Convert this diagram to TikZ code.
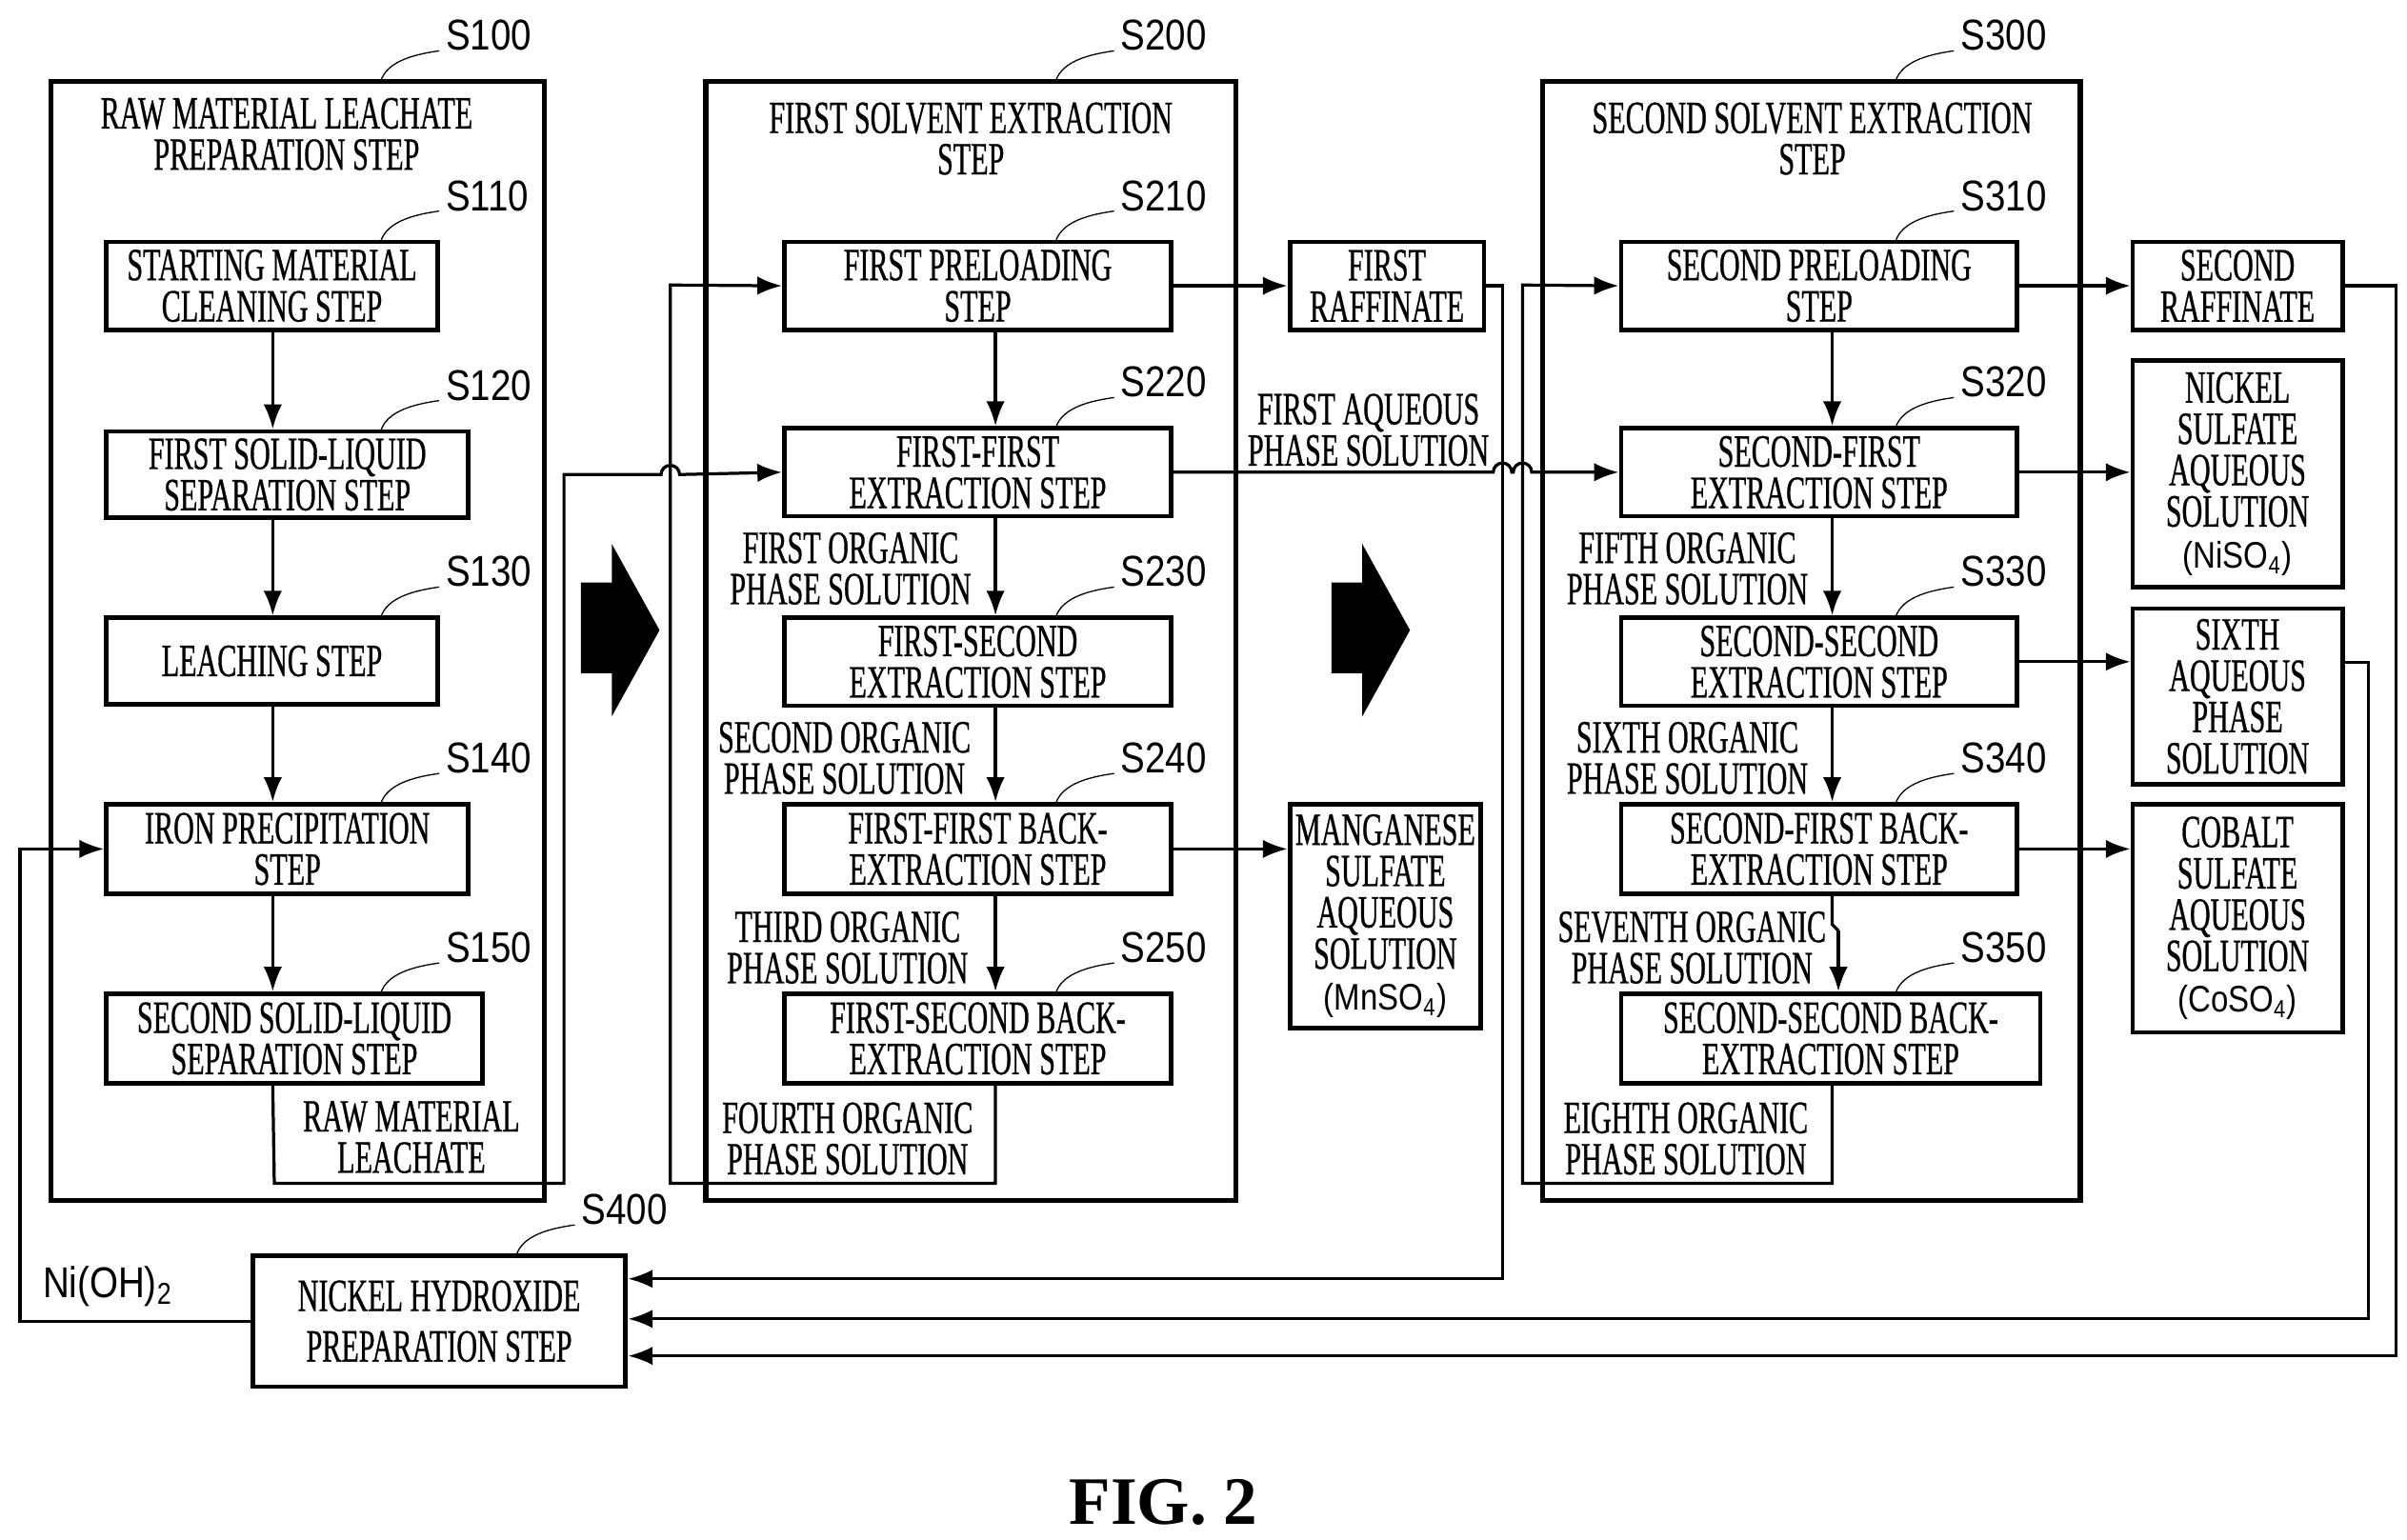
\documentclass[tikz,border=0pt]{standalone}
\usepackage{fontspec}
\setmainfont{Liberation Serif}[FakeStretch=0.62,FakeBold=0.6]
\setsansfont{Liberation Sans}[FakeStretch=0.85]
\newfontfamily\figfont{Liberation Serif}
\usetikzlibrary{calc,arrows.meta}

\begin{document}
\begin{tikzpicture}[x=0.5pt,y=-0.5pt,
  font=\fontsize{15}{13.4}\selectfont,
  box/.style={draw,line width=1.5pt,inner sep=0pt,align=center},
  frame/.style={draw,line width=1.6pt},
  line/.style={line width=1pt},
  arr/.style={line width=1pt,-{Latex[length=8pt,width=6pt]}},
  lbl/.style={align=center,inner sep=0pt},
  snum/.style={font=\sffamily\fontsize{14}{14}\selectfont,anchor=west,inner sep=0pt}]

\newcommand{\steptag}[2]{%
  \draw[thin] (#1) .. controls +(4,-14) and +(-14,2) .. ++(38,-20) node[snum,xshift=2pt,yshift=5pt] {#2};}
\newcommand{\chemtxt}[1]{{\sffamily\fontsize{12}{12}\selectfont#1}}

\useasboundingbox (0,0) rectangle (1562,999);

% outer frames
\draw[frame] (33,53) rectangle (353,779);
\draw[frame] (458,53) rectangle (802,779);
\draw[frame] (1001,53) rectangle (1350,779);
\node[lbl] (t100) at (186,87) {RAW MATERIAL LEACHATE\\PREPARATION STEP};
\node[lbl] (t200) at (630,90) {FIRST SOLVENT EXTRACTION\\STEP};
\node[lbl] (t300) at (1176,90) {SECOND SOLVENT EXTRACTION\\STEP};
\steptag{247,53}{S100}
\steptag{685,53}{S200}
\steptag{1230,53}{S300}

% S100 steps
\node[box,minimum width=107.5pt,minimum height=28.5pt] (s110) at (176.5,185.5) {STARTING MATERIAL\\CLEANING STEP};
\node[box,minimum width=117.5pt,minimum height=28pt] (s120) at (186.5,308) {FIRST SOLID-LIQUID\\SEPARATION STEP};
\node[box,minimum width=107.5pt,minimum height=28pt] (s130) at (176.5,429) {LEACHING STEP};
\node[box,minimum width=117.5pt,minimum height=29pt] (s140) at (186.5,551) {IRON PRECIPITATION\\STEP};
\node[box,minimum width=122pt,minimum height=29pt] (s150) at (191,674) {SECOND SOLID-LIQUID\\SEPARATION STEP};
\steptag{247,157}{S110}
\steptag{247,280}{S120}
\steptag{247,401}{S130}
\steptag{247,522}{S140}
\steptag{247,645}{S150}
\coordinate (c1) at (177,0);
\draw[arr] (s110.south -| c1) -- (s120.north -| c1);
\draw[arr] (s120.south -| c1) -- (s130.north -| c1);
\draw[arr] (s130.south -| c1) -- (s140.north -| c1);
\draw[arr] (s140.south -| c1) -- (s150.north -| c1);
\node[lbl] (leach) at (267,738) {RAW MATERIAL\\LEACHATE};

% S200 steps
\node[box,minimum width=125.5pt,minimum height=28.5pt] (s210) at (634.5,185.5) {FIRST PRELOADING\\STEP};
\node[box,minimum width=125.5pt,minimum height=28.5pt] (s220) at (634.5,306.5) {FIRST-FIRST\\EXTRACTION STEP};
\node[box,minimum width=125.5pt,minimum height=28.5pt] (s230) at (634.5,429.5) {FIRST-SECOND\\EXTRACTION STEP};
\node[box,minimum width=125.5pt,minimum height=29pt] (s240) at (634.5,551) {FIRST-FIRST BACK-\\EXTRACTION STEP};
\node[box,minimum width=125.5pt,minimum height=29pt] (s250) at (634.5,674) {FIRST-SECOND BACK-\\EXTRACTION STEP};
\steptag{685,157}{S210}
\steptag{685,278}{S220}
\steptag{685,401}{S230}
\steptag{685,522}{S240}
\steptag{685,645}{S250}
\coordinate (c2) at (646,0);
\draw[arr] (s210.south -| c2) -- (s220.north -| c2);
\draw[arr] (s220.south -| c2) -- (s230.north -| c2);
\draw[arr] (s230.south -| c2) -- (s240.north -| c2);
\draw[arr] (s240.south -| c2) -- (s250.north -| c2);
\node[lbl] (o1) at (552,369) {FIRST ORGANIC\\PHASE SOLUTION};
\node[lbl] (o2) at (548,492) {SECOND ORGANIC\\PHASE SOLUTION};
\node[lbl] (o3) at (550,615) {THIRD ORGANIC\\PHASE SOLUTION};
\node[lbl] (o4) at (550,739) {FOURTH ORGANIC\\PHASE SOLUTION};

\node[box,minimum width=63pt,minimum height=28.5pt] (raf1) at (900,185.5) {FIRST\\RAFFINATE};
\node[box,minimum width=62pt,minimum height=72.5pt] (mn) at (899,594.5) {MANGANESE\\SULFATE\\AQUEOUS\\SOLUTION\\\chemtxt{(MnSO\textsubscript{4})}};
\draw[arr] (s210) -- (raf1);
\draw[arr] (s240.east) -- (s240.east -| mn.west);
\node[lbl] (aq1) at (888,279) {FIRST AQUEOUS\\PHASE SOLUTION};

% S300 steps
\node[box,minimum width=128.5pt,minimum height=28.5pt] (s310) at (1180.5,185.5) {SECOND PRELOADING\\STEP};
\node[box,minimum width=128.5pt,minimum height=28.5pt] (s320) at (1180.5,306.5) {SECOND-FIRST\\EXTRACTION STEP};
\node[box,minimum width=128.5pt,minimum height=28.5pt] (s330) at (1180.5,429.5) {SECOND-SECOND\\EXTRACTION STEP};
\node[box,minimum width=128.5pt,minimum height=29pt] (s340) at (1180.5,551) {SECOND-FIRST BACK-\\EXTRACTION STEP};
\node[box,minimum width=136pt,minimum height=29pt] (s350) at (1188,674) {SECOND-SECOND BACK-\\EXTRACTION STEP};
\steptag{1230,157}{S310}
\steptag{1230,278}{S320}
\steptag{1230,401}{S330}
\steptag{1230,522}{S340}
\steptag{1230,645}{S350}
\coordinate (c3) at (1189,0);
\coordinate (c4) at (1193,0);
\draw[arr] (s310.south -| c3) -- (s320.north -| c3);
\draw[arr] (s320.south -| c3) -- (s330.north -| c3);
\draw[arr] (s330.south -| c3) -- (s340.north -| c3);
\draw[line] (s340.south -| c3) -- (1189,600) -- (1193,604);
\draw[arr] (1193,604) -- (s350.north -| c4);
\node[lbl] (o5) at (1095,369) {FIFTH ORGANIC\\PHASE SOLUTION};
\node[lbl] (o6) at (1095,492) {SIXTH ORGANIC\\PHASE SOLUTION};
\node[lbl] (o7) at (1098,615) {SEVENTH ORGANIC\\PHASE SOLUTION};
\node[lbl] (o8) at (1094,739) {EIGHTH ORGANIC\\PHASE SOLUTION};

\node[box,minimum width=68pt,minimum height=28.5pt] (raf2) at (1452,185.5) {SECOND\\RAFFINATE};
\node[box,minimum width=68pt,minimum height=73.5pt] (ni) at (1452,307.5) {NICKEL\\SULFATE\\AQUEOUS\\SOLUTION\\\chemtxt{(NiSO\textsubscript{4})}};
\node[box,minimum width=68pt,minimum height=57pt] (aq6) at (1452,452) {SIXTH\\AQUEOUS\\PHASE\\SOLUTION};
\node[box,minimum width=68pt,minimum height=74pt] (co) at (1452,596) {COBALT\\SULFATE\\AQUEOUS\\SOLUTION\\\chemtxt{(CoSO\textsubscript{4})}};
\draw[arr] (s310) -- (raf2);
\draw[arr] (s320.east) -- (s320.east -| ni.west);
\draw[arr] (s330.east) -- (s330.east -| aq6.west);
\draw[arr] (s340.east) -- (s340.east -| co.west);

% big arrows
\fill (377,378) -- (397,378) -- (397,353) -- (428,409) -- (397,465) -- (397,437) -- (377,437) -- cycle;
\fill (864,378) -- (884,378) -- (884,353) -- (915,409) -- (884,465) -- (884,437) -- (864,437) -- cycle;

% S400
\node[box,minimum width=121pt,minimum height=42.5pt] (s400) at (285,857.5) {NICKEL HYDROXIDE\\[3pt]PREPARATION STEP};
\steptag{335,815}{S400}
\node[font=\sffamily\fontsize{14}{14}\selectfont,inner sep=0pt] (nioh) at (70,835) {Ni(OH)\textsubscript{2}};

% connectors
\draw[arr] (s150.south -| c1) -- (178,768) -- (366,768) -- (366,308) -- (429,308) arc (180:360:6) -- (s220.west);
\draw[arr] (s250.south -| c2) -- (646,768) -- (435,768) -- (435,185) -- (s210.west);
\draw[arr] (s220.east) -- (969,306.5) arc (180:360:6) -- (982,306.5) arc (180:360:6) -- (s320.west);
\draw[arr] (s350.south -| c3) -- (1189,768) -- (988,768) -- (988,185) -- (s310.west);
\draw[arr] (raf1.east) -- (975,185.5) -- (975,830) -- (s400.east |- 0,830);
\draw[arr] (aq6.east |- 0,430) -- (1537,430) -- (1537,856) -- (s400.east |- 0,856);
\draw[arr] (raf2.east) -- (1555,185.5) -- (1555,880) -- (s400.east |- 0,880);
\draw[arr] (s400.west) -- (13,857.5) -- (13,551) -- (s140.west);

\node[font=\figfont\bfseries\fontsize{22}{22}\selectfont] (fig) at (755,975) {FIG. 2};
\end{tikzpicture}
\end{document}
